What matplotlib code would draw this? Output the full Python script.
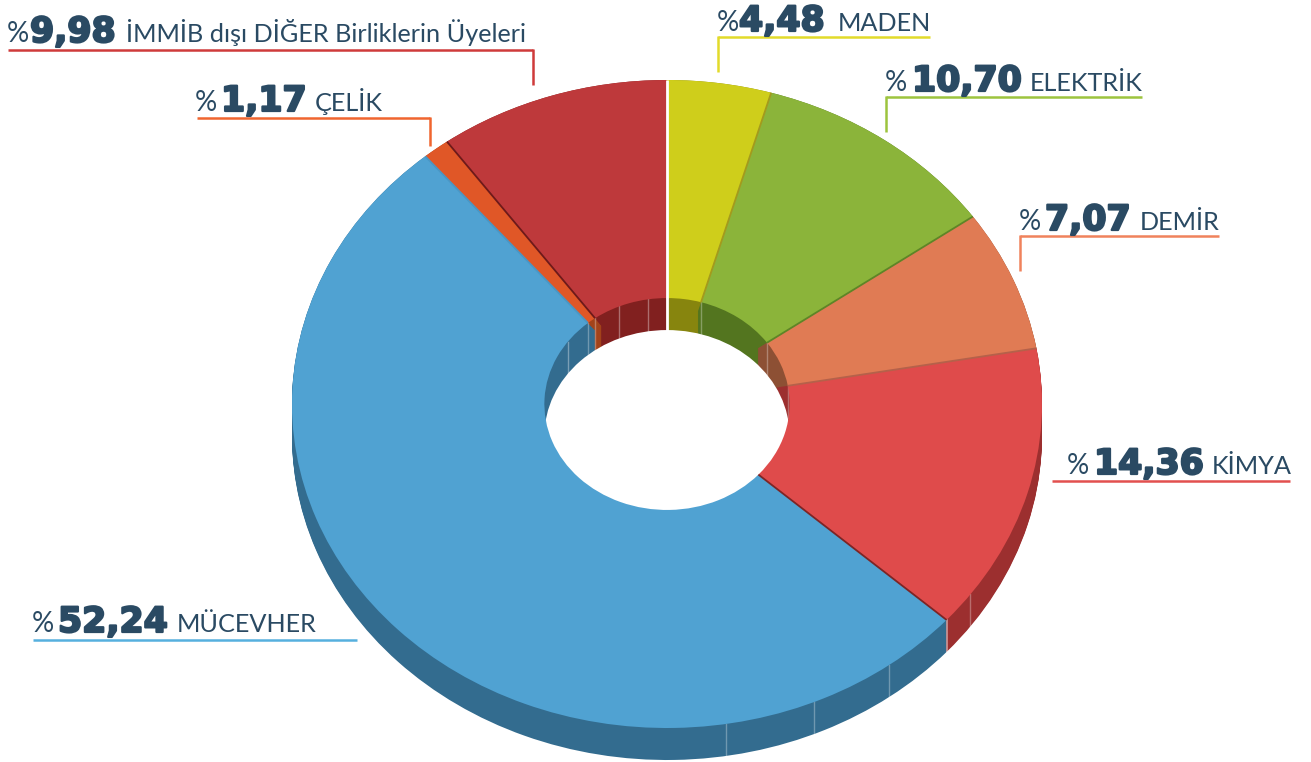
import numpy as np
import matplotlib
matplotlib.use("Agg")
import matplotlib.pyplot as plt
import matplotlib.patheffects as pe
from matplotlib.patches import Ellipse

# ---- data (clockwise from 12 o'clock) ----
names = ["MADEN", "ELEKTRİK", "DEMİR", "KİMYA", "MÜCEVHER", "ÇELİK", "İMMİB dışı DİĞER Birliklerin Üyeleri"]
values = [4.48, 10.70, 7.07, 14.36, 52.24, 1.17, 9.98]
top_colors = ["#CFCE1B", "#8BB43A", "#E07B54", "#DF4B4B", "#50A2D2", "#E05727", "#BE393B"]
side_colors = ["#87850E", "#53751F", "#8D5034", "#9C2F2F", "#336C8F", "#A3431A", "#81201F"]
edge_colors = ["#A39A1D", "#5E8527", "#B5614A", "#7D2525", "#4A96C4", "#6E1A1A", "#FFFFFF"]
line_colors = ["#E2DB2A", "#9DC43E", "#F0825C", "#E2504F", "#56B0DE", "#F0652F", "#CF3A3A"]

# ---- layout, in picture pixels ----
W, H = 1311, 762
CX, CY, RX, RY = 667, 404, 375, 324
DEPTH = 32
HOLE = 0.327
TEXT = "#2A4A63"
# x of %, x of number, x of name, baseline y, line x0, x1, line y, end of drop line
rows = [
    (717, 739, 838, 31, 718, 930, 37, 72),
    (885, 912, 1030, 91, 886, 1142, 97, 132),
    (1019, 1045, 1140, 230, 1020, 1219, 236, 271),
    (1067, 1094, 1212, 474, 1052, 1290, 481, None),
    (32, 58, 177, 632, 33, 357, 640, None),
    (195, 221, 315, 111, 197, 430, 118, 146),
    (7, 30, 126, 42, 8, 533, 50, 85),
]
outer_seams = [126, 143.7, 157, 171]   # degrees clockwise from top
inner_seams = [-23, -9, -54]

fig = plt.figure(figsize=(W / 100, H / 100), dpi=100, facecolor="white")

# pixel-coordinate layer for the annotations
bg = fig.add_axes([0, 0, 1, 1], zorder=2)
bg.set_xlim(0, W)
bg.set_ylim(H, 0)
bg.axis("off")

# pie layer: unit circle maps onto the squashed ellipse
ax = fig.add_axes([(CX - RX) / W, 1 - (CY + RY) / H, 2 * RX / W, 2 * RY / H], zorder=1)
dy = DEPTH / RY


def pie(center_y, colors, radius=1.0, width=None, z=1):
    wp = dict(linewidth=0)
    if width is not None:
        wp["width"] = width
    wedges, _ = ax.pie(values, colors=colors, startangle=90, counterclock=False,
                       center=(0, center_y), radius=radius, wedgeprops=wp,
                       normalize=True)
    for w in wedges:
        w.set_clip_on(False)
        w.set_zorder(z)
    return wedges


def pt(deg, r=1.0):
    a = np.radians(deg)
    return r * np.sin(a), r * np.cos(a)


ends = np.cumsum(values) / np.sum(values) * 360

# extruded outer wall
for off in np.linspace(dy, 0, DEPTH + 1):
    pie(-off, side_colors, z=1)

# inner wall, a stack of thin rings seen through the hole
for off in np.linspace(dy, 0, DEPTH + 1):
    pie(-off, side_colors, radius=HOLE, width=0.03, z=1.2)
for s in inner_seams:
    x0, y0 = pt(s, HOLE)
    ax.plot([x0, x0], [y0, y0 - dy], color="white", alpha=0.35, lw=1, zorder=1.3, clip_on=False)
for deg, c in zip(ends, edge_colors):
    x0, y0 = pt(deg, HOLE)
    ax.plot([x0, x0], [y0, y0 - dy], color="white", alpha=1 if c == "#FFFFFF" else 0.3,
            lw=2 if c == "#FFFFFF" else 1, zorder=1.3, clip_on=False)
ax.add_patch(Ellipse((0, -dy), 2 * HOLE, 2 * HOLE, fc="white", ec="none", clip_on=False, zorder=1.5))

# top face
pie(0, top_colors, width=1 - HOLE, z=2)

# seams on the outer wall
for s in outer_seams:
    x0, y0 = pt(s)
    ax.plot([x0, x0], [y0, y0 - dy], color="white", alpha=0.3, lw=1, zorder=1.1, clip_on=False)

# slice boundaries on the top face
for deg, c in zip(ends, edge_colors):
    x0, y0 = pt(deg, HOLE)
    x1, y1 = pt(deg, 1.0)
    ax.plot([x0, x1], [y0, y1], color=c, lw=2 if c == "#FFFFFF" else 1.3, zorder=3,
            solid_capstyle="butt", clip_on=False)
x0, y0 = pt(ends[3])
ax.plot([x0, x0], [y0, y0 - dy], color="white", alpha=0.5, lw=1.2, zorder=1.1, clip_on=False)

ax.set_xlim(-1, 1)
ax.set_ylim(-1, 1)
ax.set_aspect("auto")
ax.axis("off")

# labels and leader lines
for name, v, col, r in zip(names, values, line_colors, rows):
    xp, xn, xl, base, lx0, lx1, ly, drop = r
    bg.text(xp, base, "%", family="Lato", fontsize=20, color=TEXT, va="baseline", ha="left")
    t = bg.text(xn, base, f"{v:.2f}".replace(".", ","), family="DejaVu Sans", fontweight="bold",
                fontsize=25, color=TEXT, va="baseline", ha="left")
    t.set_path_effects([pe.withStroke(linewidth=1.6, foreground=TEXT)])
    bg.text(xl, base, name, family="Lato", fontsize=18.2, color=TEXT, va="baseline", ha="left")
    bg.plot([lx0, lx1], [ly, ly], color=col, lw=1.8, solid_capstyle="butt")
    if drop is not None:
        end_x = lx1 if lx0 < CX - 100 else lx0
        bg.plot([end_x, end_x], [ly - 1, drop], color=col, lw=1.8, solid_capstyle="butt")

fig.savefig("out.png", dpi=100, facecolor="white")
